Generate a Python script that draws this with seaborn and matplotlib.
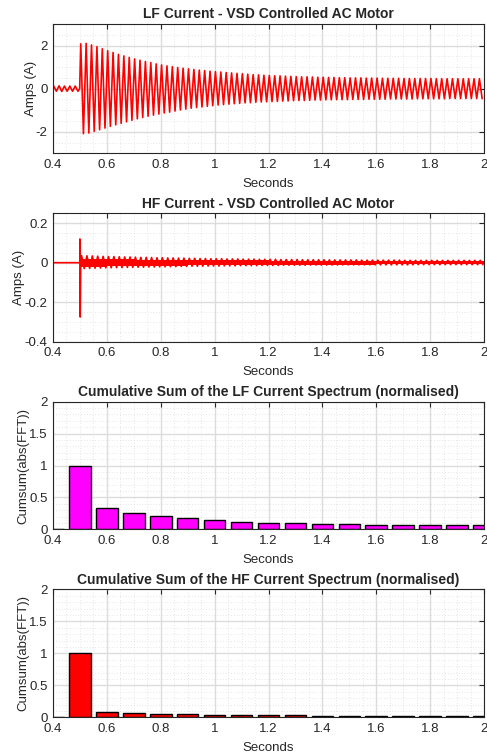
import numpy as np
import pandas as pd
import matplotlib
matplotlib.use('Agg')
import matplotlib.pyplot as plt
from matplotlib.ticker import MultipleLocator, FuncFormatter
import seaborn as sns

sns.set_style('white')
plt.rcParams['font.family'] = ['Liberation Sans', 'DejaVu Sans']

# ---------------- data ----------------
cycle_period = 0.02          # 50 Hz supply
lf_start = 0.503             # first peak after the switch-on
hf_start = 0.506

# LF current before switch-on (small wiggle, 5 cycles from 0.4 s)
lf_pre_hi = [0.12, 0.13, 0.12, 0.12, 0.12]
lf_pre_lo = [-0.12, -0.13, -0.12, -0.12, -0.12]

# LF current, one peak / trough per cycle from 0.503 s to 2 s
lf_hi = [2.08, 2.10, 2.03, 1.95, 1.85, 1.76, 1.68, 1.59, 1.52, 1.45,
         1.38, 1.32, 1.26, 1.21, 1.15, 1.10, 1.06, 1.02, 0.98, 0.95,
         0.92, 0.89, 0.86, 0.84, 0.81, 0.79, 0.77, 0.75, 0.73, 0.71,
         0.69, 0.67, 0.65, 0.64, 0.62, 0.61, 0.60, 0.59, 0.58, 0.57,
         0.56, 0.55, 0.55, 0.54, 0.53, 0.53, 0.52, 0.52, 0.51, 0.51,
         0.50, 0.50, 0.50, 0.49, 0.49, 0.49, 0.48, 0.48, 0.48, 0.48,
         0.47, 0.47, 0.47, 0.47, 0.47, 0.47, 0.46, 0.46, 0.46, 0.46,
         0.46, 0.46, 0.46, 0.46, 0.46]
lf_lo = [-2.09, -2.06, -1.98, -1.91, -1.83, -1.75, -1.68, -1.61, -1.54, -1.47,
         -1.40, -1.34, -1.28, -1.23, -1.18, -1.13, -1.09, -1.04, -0.99, -0.95,
         -0.91, -0.88, -0.85, -0.82, -0.79, -0.76, -0.74, -0.72, -0.70, -0.68,
         -0.66, -0.65, -0.63, -0.62, -0.61, -0.60, -0.59, -0.58, -0.57, -0.56,
         -0.55, -0.55, -0.54, -0.53, -0.53, -0.52, -0.52, -0.51, -0.51, -0.51,
         -0.50, -0.50, -0.50, -0.49, -0.49, -0.49, -0.49, -0.48, -0.48, -0.48,
         -0.48, -0.48, -0.47, -0.47, -0.47, -0.47, -0.47, -0.47, -0.46, -0.46,
         -0.46, -0.46, -0.46, -0.46, -0.46]

# HF current: switch-on spike, then one peak / trough per cycle
hf_spike = [0.12, -0.275]
hf_hi = [0.036, 0.035, 0.034, 0.033, 0.032, 0.031, 0.031, 0.030, 0.029, 0.029,
         0.028, 0.027, 0.027, 0.026, 0.025, 0.025, 0.024, 0.024, 0.023, 0.023,
         0.022, 0.022, 0.021, 0.021, 0.020, 0.020, 0.020, 0.019, 0.019, 0.019,
         0.018, 0.018, 0.018, 0.017, 0.017, 0.017, 0.017, 0.016, 0.016, 0.016,
         0.016, 0.015, 0.015, 0.015, 0.015, 0.015, 0.014, 0.014, 0.014, 0.014,
         0.014, 0.014, 0.013, 0.013, 0.013, 0.013, 0.013, 0.013, 0.013, 0.013,
         0.012, 0.012, 0.012, 0.012, 0.012, 0.012, 0.012, 0.012, 0.012, 0.012,
         0.012, 0.012, 0.012, 0.012, 0.012]
hf_lo = [-0.030, -0.029, -0.028, -0.027, -0.026, -0.026, -0.025, -0.025, -0.024, -0.024,
         -0.023, -0.023, -0.022, -0.022, -0.021, -0.021, -0.020, -0.020, -0.019, -0.019,
         -0.018, -0.018, -0.018, -0.017, -0.017, -0.017, -0.016, -0.016, -0.016, -0.015,
         -0.015, -0.015, -0.015, -0.014, -0.014, -0.014, -0.014, -0.013, -0.013, -0.013,
         -0.013, -0.013, -0.012, -0.012, -0.012, -0.012, -0.012, -0.012, -0.011, -0.011,
         -0.011, -0.011, -0.011, -0.011, -0.011, -0.011, -0.011, -0.011, -0.011, -0.011,
         -0.011, -0.011, -0.010, -0.010, -0.010, -0.010, -0.010, -0.010, -0.010, -0.010,
         -0.010, -0.010, -0.010, -0.010, -0.010]
# solid core of the HF trace, half-width per 0.1 s from 0.5 s
hf_band_t = [0.5, 0.6, 0.7, 0.8, 0.9, 1.0, 1.1, 1.2, 1.3, 1.4, 1.5, 1.6, 1.7, 1.8, 1.9, 2.0]
hf_band = [0.020, 0.018, 0.016, 0.015, 0.014, 0.013, 0.012, 0.011, 0.011, 0.010,
           0.010, 0.009, 0.009, 0.009, 0.008, 0.008]

# cumulative spectrum bars (normalised)
bar_t = [0.4, 0.5, 0.6, 0.7, 0.8, 0.9, 1.0, 1.1, 1.2, 1.3, 1.4, 1.5, 1.6, 1.7, 1.8, 1.9, 2.0]
lf_bar = [0.006, 1.0, 0.335, 0.26, 0.215, 0.173, 0.141, 0.12, 0.105, 0.092,
          0.082, 0.076, 0.072, 0.069, 0.067, 0.066, 0.065]
hf_bar = [0.004, 1.0, 0.078, 0.062, 0.056, 0.047, 0.042, 0.036, 0.031, 0.029,
          0.026, 0.023, 0.021, 0.019, 0.017, 0.016, 0.015]


def zigzag(t0, hi, lo):
    # peak then trough half a cycle later, for every cycle
    k = np.arange(len(hi))
    t_hi = t0 + k * cycle_period
    t_lo = t_hi + cycle_period / 2
    t = np.column_stack([t_hi, t_lo]).ravel()
    y = np.column_stack([hi, lo]).ravel()
    return t, y


t_pre, y_pre = zigzag(0.4025, lf_pre_hi, lf_pre_lo)
t_main, y_main = zigzag(lf_start, lf_hi, lf_lo)
lf = pd.DataFrame({'t': np.concatenate([[0.4], t_pre, [0.499], t_main]),
                   'amps': np.concatenate([[0.0], y_pre, [0.0], y_main])})

t_hf, y_hf = zigzag(hf_start, hf_hi, hf_lo)
hf = pd.DataFrame({'t': np.concatenate([[0.4, 0.4995, 0.5, 0.501, 0.503], t_hf]),
                   'amps': np.concatenate([[0.0, 0.0], hf_spike, [0.0], y_hf])})

bars_lf = pd.DataFrame({'t': bar_t, 'v': lf_bar})
bars_hf = pd.DataFrame({'t': bar_t, 'v': hf_bar})

# ---------------- figure ----------------
fig = plt.figure(figsize=(4.87, 7.55), dpi=100)
W, H = 487, 755
boxes = [(24, 153.3), (213.3, 341.7), (401.7, 529.3), (589.3, 717.3)]
axes = [fig.add_axes([53 / W, 1 - b / H, 431 / W, (b - t) / H]) for t, b in boxes]

dark = '#262626'
fs = 9.5


def matlab_look(ax, ymaj, ymin, ylabel, ypad):
    ax.set_xlim(0.4, 2.0)
    ax.xaxis.set_major_locator(MultipleLocator(0.2))
    ax.xaxis.set_minor_locator(MultipleLocator(0.05))
    ax.yaxis.set_major_locator(MultipleLocator(ymaj))
    ax.yaxis.set_minor_locator(MultipleLocator(ymin))
    fmt = FuncFormatter(lambda v, p: f'{round(v, 6):g}')
    ax.xaxis.set_major_formatter(fmt)
    ax.yaxis.set_major_formatter(fmt)
    ax.set_axisbelow(True)
    ax.grid(which='major', color='#dcdcdc', linewidth=1.0, linestyle='-')
    ax.grid(which='minor', color='#cfcfcf', linewidth=0.5, linestyle=(0, (1, 3)))
    ax.tick_params(which='major', direction='in', length=3.5, width=0.8,
                   top=True, right=True, labelsize=fs, colors=dark, pad=4)
    ax.tick_params(which='minor', length=0)
    for s in ax.spines.values():
        s.set_color(dark)
        s.set_linewidth(0.8)
    ax.set_xlabel('Seconds', fontsize=fs, color=dark, labelpad=5)
    ax.set_ylabel(ylabel, fontsize=fs, color=dark, labelpad=ypad)


ax = axes[0]
sns.lineplot(data=lf, x='t', y='amps', estimator=None, color='#ff0000', linewidth=1.2, ax=ax)
matlab_look(ax, 2, 0.5, 'Amps (A)', -1)
ax.set_ylim(-3, 3)
ax.set_title('LF Current - VSD Controlled AC Motor', fontsize=10, fontweight='bold', pad=4)

ax = axes[1]
ax.fill_between(hf_band_t, [-b for b in hf_band], hf_band, step='post', color='#ff0000', lw=0)
sns.lineplot(data=hf, x='t', y='amps', estimator=None, color='#ff0000', linewidth=1.2, ax=ax)
matlab_look(ax, 0.2, 0.05, 'Amps (A)', 0)
ax.set_ylim(-0.4, 0.25)
ax.set_title('HF Current - VSD Controlled AC Motor', fontsize=10, fontweight='bold', pad=4)

for ax, df, col, name in [(axes[2], bars_lf, '#ff00ff', 'LF'), (axes[3], bars_hf, '#ff0000', 'HF')]:
    sns.barplot(data=df, x='t', y='v', native_scale=True, width=0.8, color=col,
                saturation=1, edgecolor='black', linewidth=1, errorbar=None, ax=ax)
    matlab_look(ax, 0.5, 0.1, 'Cumsum(abs(FFT))', 0)
    ax.set_ylim(0, 2)
    ax.set_title(f'Cumulative Sum of the {name} Current Spectrum (normalised)',
                 fontsize=10, fontweight='bold', pad=4)

fig.savefig('out.png', dpi=100)
